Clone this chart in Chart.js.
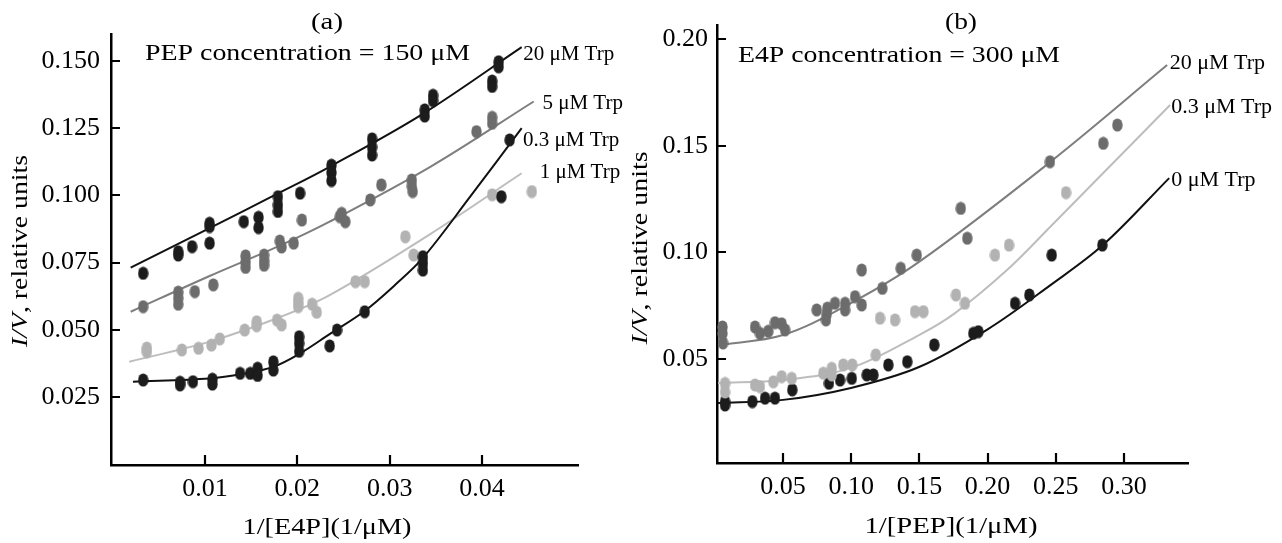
<!DOCTYPE html>
<html><head><meta charset="utf-8">
<script src="https://cdn.jsdelivr.net/npm/chart.js@4.4.1/dist/chart.umd.min.js"></script>
<style>
html,body{margin:0;padding:0;background:#fff;width:1282px;height:543px;overflow:hidden}
#ca{position:absolute;left:0;top:0}
#cb{position:absolute;left:600px;top:0}
</style></head><body>
<canvas id="ca" width="641" height="543"></canvas>
<canvas id="cb" width="682" height="543"></canvas>
<script>
// ---------- Panel (a): 1/[E4P], PEP = 150 µM ----------
const aXTicks = [0.01, 0.02, 0.03, 0.04];
const aYTicks = [0.025, 0.05, 0.075, 0.1, 0.125, 0.15];
const aNames = ['20 μM Trp', '5 μM Trp', '0.3 μM Trp', '1 μM Trp'];

const aPts20 = [[0.0033,0.0710],[0.0071,0.0790],[0.0071,0.0778],[0.0086,0.0809],[0.0105,0.0896],[0.0105,0.0884],[0.0105,0.0822],
  [0.0142,0.0902],[0.0158,0.0918],[0.0158,0.0880],[0.0179,0.0995],[0.0179,0.0965],[0.0179,0.0940],[0.0203,0.1008],
  [0.0237,0.1112],[0.0237,0.1085],[0.0237,0.1055],[0.0281,0.1210],[0.0281,0.1180],[0.0281,0.1150],[0.0338,0.1318],[0.0338,0.1295],
  [0.0347,0.1372],[0.0347,0.1352],[0.0411,0.1425],[0.0411,0.1405],[0.0418,0.1497],[0.0418,0.1478]];
const aPts5 = [[0.0033,0.0586],[0.0071,0.0640],[0.0071,0.0618],[0.0071,0.0595],[0.0089,0.0642],[0.0109,0.0667],
  [0.0144,0.0775],[0.0144,0.0752],[0.0144,0.0732],[0.0164,0.0778],[0.0164,0.0757],[0.0164,0.0740],[0.0181,0.0830],[0.0183,0.0808],
  [0.0196,0.0822],[0.0205,0.0908],[0.0246,0.0921],[0.0248,0.0933],[0.0252,0.0902],[0.0279,0.0983],[0.0291,0.1039],
  [0.0324,0.1057],[0.0324,0.1035],[0.0325,0.1014],[0.0394,0.1237],[0.0411,0.1290],[0.0411,0.1268]];
const aPts03 = [[0.0033,0.0313],[0.0073,0.0305],[0.0073,0.0295],[0.0087,0.0307],[0.0108,0.0316],[0.0108,0.0298],
  [0.0138,0.0338],[0.0149,0.0338],[0.0157,0.0357],[0.0157,0.0330],[0.0174,0.0381],[0.0174,0.0350],
  [0.0202,0.0474],[0.0202,0.0450],[0.0202,0.0420],[0.0235,0.0440],[0.0243,0.0499],[0.0273,0.0567],
  [0.0336,0.0772],[0.0336,0.0748],[0.0336,0.0722],[0.0421,0.0995],[0.0430,0.1206]];
const aPts1 = [[0.0037,0.0432],[0.0037,0.0418],[0.0075,0.0425],[0.0093,0.0431],[0.0107,0.0443],[0.0116,0.0466],
  [0.0143,0.0499],[0.0156,0.0530],[0.0156,0.0515],[0.0178,0.0536],[0.0183,0.0518],[0.0201,0.0617],[0.0201,0.0600],[0.0201,0.0586],
  [0.0216,0.0595],[0.0221,0.0565],[0.0263,0.0679],[0.0273,0.0679],[0.0317,0.0846],[0.0326,0.0778],[0.0411,0.1002],[0.0454,0.1014]];

const aFit20 = [[0.00195,0.0731],[0.0105,0.0878],[0.0178,0.1005],[0.0235,0.1106],[0.0336,0.1303],[0.0443,0.1551]];
const aFit5 = [[0.00195,0.0567],[0.0105,0.0700],[0.0178,0.0808],[0.0235,0.0902],[0.0344,0.1106],[0.0456,0.1349]];
const aFit03 = [[0.0022,0.0307],[0.0105,0.0319],[0.0141,0.0336],[0.0174,0.0362],[0.0202,0.0410],[0.0235,0.0484],
  [0.0273,0.0570],[0.0305,0.0664],[0.0336,0.0767],[0.0387,0.0994],[0.0443,0.1250]];
const aFit1 = [[0.0018,0.0381],[0.0105,0.0456],[0.0178,0.0543],[0.0235,0.0629],[0.0344,0.0856],[0.0443,0.1082]];

// ---------- Panel (b): 1/[PEP], E4P = 300 µM ----------
const bXTicks = [0.05, 0.10, 0.15, 0.20, 0.25, 0.30];
const bYTicks = [0.05, 0.10, 0.15, 0.20];
const bNames = ['20 μM Trp', '0.3 μM Trp', '0 μM Trp'];

const bPts20 = [[0.0056,0.0650],[0.0056,0.0620],[0.0060,0.0575],[0.0295,0.0650],[0.0331,0.0620],[0.0392,0.0630],
  [0.0441,0.0670],[0.0490,0.0665],[0.0515,0.0636],[0.0747,0.0730],[0.0815,0.0683],[0.0820,0.0710],[0.0825,0.0738],
  [0.0881,0.0761],[0.0955,0.0761],[0.0955,0.0730],[0.1028,0.0792],[0.1077,0.0753],[0.1077,0.0917],[0.1228,0.0831],
  [0.1363,0.0925],[0.1480,0.0987],[0.1803,0.1206],[0.1851,0.1066],[0.2457,0.1425],[0.2848,0.1511],[0.2951,0.1597]];
const bPts03 = [[0.0075,0.0385],[0.0075,0.0345],[0.0295,0.0378],[0.0331,0.0370],[0.0429,0.0393],[0.0490,0.0417],
  [0.0564,0.0409],[0.0795,0.0433],[0.0857,0.0456],[0.0857,0.0425],[0.0942,0.0472],[0.1008,0.0472],[0.1180,0.0519],
  [0.1211,0.0691],[0.1321,0.0683],[0.1468,0.0722],[0.1529,0.0722],[0.1768,0.0800],[0.1834,0.0761],[0.2054,0.0987],
  [0.2157,0.1034],[0.2575,0.1280]];
const bPts0 = [[0.0075,0.0300],[0.0075,0.0284],[0.0275,0.0300],[0.0368,0.0316],[0.0441,0.0316],[0.0568,0.0355],
  [0.0837,0.0386],[0.0918,0.0401],[0.1004,0.0409],[0.1114,0.0425],[0.1162,0.0425],[0.1272,0.0472],[0.1411,0.0487],
  [0.1609,0.0566],[0.1895,0.0620],[0.1932,0.0628],[0.2201,0.0761],[0.2306,0.0800],[0.2470,0.0987],[0.2841,0.1034]];

const bFit20 = [[0.0023,0.0565],[0.0500,0.0612],[0.0998,0.0762],[0.1497,0.0955],[0.2458,0.1423],[0.3316,0.1878]];
const bFit03 = [[0.0023,0.0387],[0.0500,0.0401],[0.0998,0.0458],[0.1497,0.0612],[0.1761,0.0715],[0.2142,0.0917],
  [0.2458,0.1119],[0.3338,0.1691]];
const bFit0 = [[0.0023,0.0293],[0.0500,0.0308],[0.0998,0.0364],[0.1497,0.0462],[0.2003,0.0640],[0.2458,0.0845],
  [0.2847,0.1035],[0.3331,0.1348]];

// ---------- styling ----------
const FONT = '"Liberation Serif", "Times New Roman", serif';
const C_BLACK = '#1c1c1c', C_DARK = '#6c6c6c', C_LIGHT = '#b2b2b2';
const L_BLACK = '#111111', L_DARK = '#7e7e7e', L_LIGHT = '#bdbdbd';

function marker(color){
  const c = document.createElement('canvas'); c.width = 11; c.height = 14;
  const g = c.getContext('2d'); g.fillStyle = color; g.beginPath();
  g.ellipse(5.5, 7, 5.2, 6.6, 0, 0, Math.PI*2); g.fill(); return c;
}
const toXY = arr => arr.map(p => ({x:p[0], y:p[1]}));
function ptsDS(arr, color){
  return {data: toXY(arr), showLine:false, pointStyle: marker(color), pointRadius:5, pointHoverRadius:5, order:0, clip:false};
}
function fitDS(arr, color, name){
  return {label:name, data: toXY(arr), showLine:true, borderColor:color, borderWidth:2, pointRadius:0, pointHoverRadius:0,
    tension:0.35, fill:false, order:1, clip:false};
}

const inwardTicks = {
  id:'inwardTicks',
  afterDraw(chart){
    const {ctx, chartArea:a, scales:{x, y}} = chart;
    ctx.save(); ctx.strokeStyle = '#000'; ctx.lineWidth = 2.2; ctx.beginPath();
    x.ticks.forEach(t => { const px = Math.round(x.getPixelForValue(t.value)); ctx.moveTo(px, a.bottom); ctx.lineTo(px, a.bottom - 10); });
    y.ticks.forEach(t => { const py = Math.round(y.getPixelForValue(t.value)); ctx.moveTo(a.left, py); ctx.lineTo(a.left + 9, py); });
    ctx.stroke(); ctx.restore();
  }
};

function drawRuns(ctx, runs, x, y, o){
  const size = o.size || 24;
  const fontOf = it => (it ? 'italic ' : '') + size + 'px ' + FONT;
  let total = 0; const widths = runs.map(r => { ctx.font = fontOf(r[1]); const w = ctx.measureText(r[0]).width; total += w; return w; });
  const sx = o.w ? o.w / total : 1;
  ctx.save(); ctx.translate(x, y); if (o.rot) ctx.rotate(o.rot); ctx.scale(sx, 1);
  ctx.fillStyle = '#000'; ctx.textBaseline = o.baseline || 'alphabetic'; ctx.textAlign = 'left';
  let cx = o.align === 'center' ? -total/2 : 0;
  runs.forEach((r, i) => { ctx.font = fontOf(r[1]); ctx.fillText(r[0], cx, 0); cx += widths[i]; });
  ctx.restore();
}

function textPlugin(texts, labels){
  return {
    id:'texts',
    afterDraw(chart){
      const ctx = chart.ctx;
      texts.forEach(t => drawRuns(ctx, t.runs, t.x, t.y, t));
      labels.forEach(l => {
        const meta = chart.getDatasetMeta(l.ds); const last = meta.data[meta.data.length - 1];
        drawRuns(ctx, [[l.text]], last.x + l.dx, last.y + l.dy, {size:l.size, baseline:'middle'});
      });
    }
  };
}

function makeChart(id, cfg){
  const tickFont = {family: FONT, size: 26};
  return new Chart(document.getElementById(id), {
    type:'scatter',
    data:{datasets: cfg.datasets},
    options:{
      responsive:false, animation:false, devicePixelRatio:1,
      layout:{padding: cfg.padding},
      plugins:{legend:{display:false}, tooltip:{enabled:false}, title:{display:false}},
      events:[],
      scales:{
        x:{type:'linear', min:cfg.xMin, max:cfg.xMax, grid:{display:false, drawTicks:false},
           border:{display:true, color:'#000', width:2.5},
           afterBuildTicks: s => { s.ticks = cfg.xTicks.map(v => ({value:v})); },
           afterFit: s => { s.height = cfg.xH; },
           ticks:{padding:cfg.xPad, color:'#000', font:tickFont, maxRotation:0, autoSkip:false,
                  callback: v => Number(v).toFixed(cfg.xDec)}},
        y:{type:'linear', min:cfg.yMin, max:cfg.yMax, grid:{display:false, drawTicks:false},
           border:{display:true, color:'#000', width:2.5},
           afterBuildTicks: s => { s.ticks = cfg.yTicks.map(v => ({value:v})); },
           afterFit: s => { s.width = cfg.yW; },
           ticks:{padding:cfg.yPad, color:'#000', font:tickFont, autoSkip:false,
                  callback: v => Number(v).toFixed(cfg.yDec)}}
      }
    },
    plugins:[inwardTicks, textPlugin(cfg.texts, cfg.labels)]
  });
}

// Panel (a)
makeChart('ca', {
  datasets:[
    ptsDS(aPts20, C_BLACK), ptsDS(aPts5, C_DARK), ptsDS(aPts03, C_BLACK), ptsDS(aPts1, C_LIGHT),
    fitDS(aFit20, L_BLACK, aNames[0]), fitDS(aFit5, L_DARK, aNames[1]), fitDS(aFit03, L_BLACK, aNames[2]), fitDS(aFit1, L_LIGHT, aNames[3])
  ],
  padding:{left:0, top:34, right:63, bottom:28},
  xMin:-0.00018, xMax:0.0504, yMin:-0.0003, yMax:0.160,
  xTicks:aXTicks, yTicks:aYTicks, xDec:2, yDec:3, xH:50, yW:111, xPad:9, yPad:11,
  texts:[
    {runs:[['(a)']], x:327, y:28.5, align:'center', size:24, w:32},
    {runs:[['PEP concentration = 150 μM']], x:145, y:60, size:24, w:325},
    {runs:[['1/[E4P](1/μM)']], x:327, y:528, align:'center', baseline:'middle', size:24, w:169},
    {runs:[['I/V', true], [', relative units']], x:21, y:251, rot:-Math.PI/2, align:'center', baseline:'middle', size:24, w:192}
  ],
  labels:[
    {ds:4, text:aNames[0], dx:1.5, dy:7, size:21},
    {ds:5, text:aNames[1], dx:8.7, dy:2.3, size:21},
    {ds:6, text:aNames[2], dx:1.3, dy:12.5, size:21},
    {ds:7, text:aNames[3], dx:18, dy:-1, size:21}
  ]
});

// Panel (b)
makeChart('cb', {
  datasets:[
    ptsDS(bPts20, C_DARK), ptsDS(bPts03, C_LIGHT), ptsDS(bPts0, C_BLACK),
    fitDS(bFit20, L_DARK, bNames[0]), fitDS(bFit03, L_LIGHT, bNames[1]), fitDS(bFit0, L_BLACK, bNames[2])
  ],
  padding:{left:0, top:25, right:94, bottom:30},
  xMin:0.0016, xMax:0.3469, yMin:0.0012, yMax:0.2066,
  xTicks:bXTicks, yTicks:bYTicks, xDec:2, yDec:2, xH:50, yW:117, xPad:9, yPad:9,
  texts:[
    {runs:[['(b)']], x:361, y:28.5, align:'center', size:24, w:32},
    {runs:[['E4P concentration = 300 μM']], x:138, y:62, size:24, w:322},
    {runs:[['1/[PEP](1/μM)']], x:351, y:527, align:'center', baseline:'middle', size:24, w:173},
    {runs:[['I/V', true], [', relative units']], x:41, y:248, rot:-Math.PI/2, align:'center', baseline:'middle', size:24, w:193}
  ],
  labels:[
    {ds:3, text:bNames[0], dx:2.5, dy:-1.5, size:22},
    {ds:4, text:bNames[1], dx:1, dy:2.5, size:22},
    {ds:5, text:bNames[2], dx:2, dy:1.7, size:22}
  ]
});
</script>
</body></html>
